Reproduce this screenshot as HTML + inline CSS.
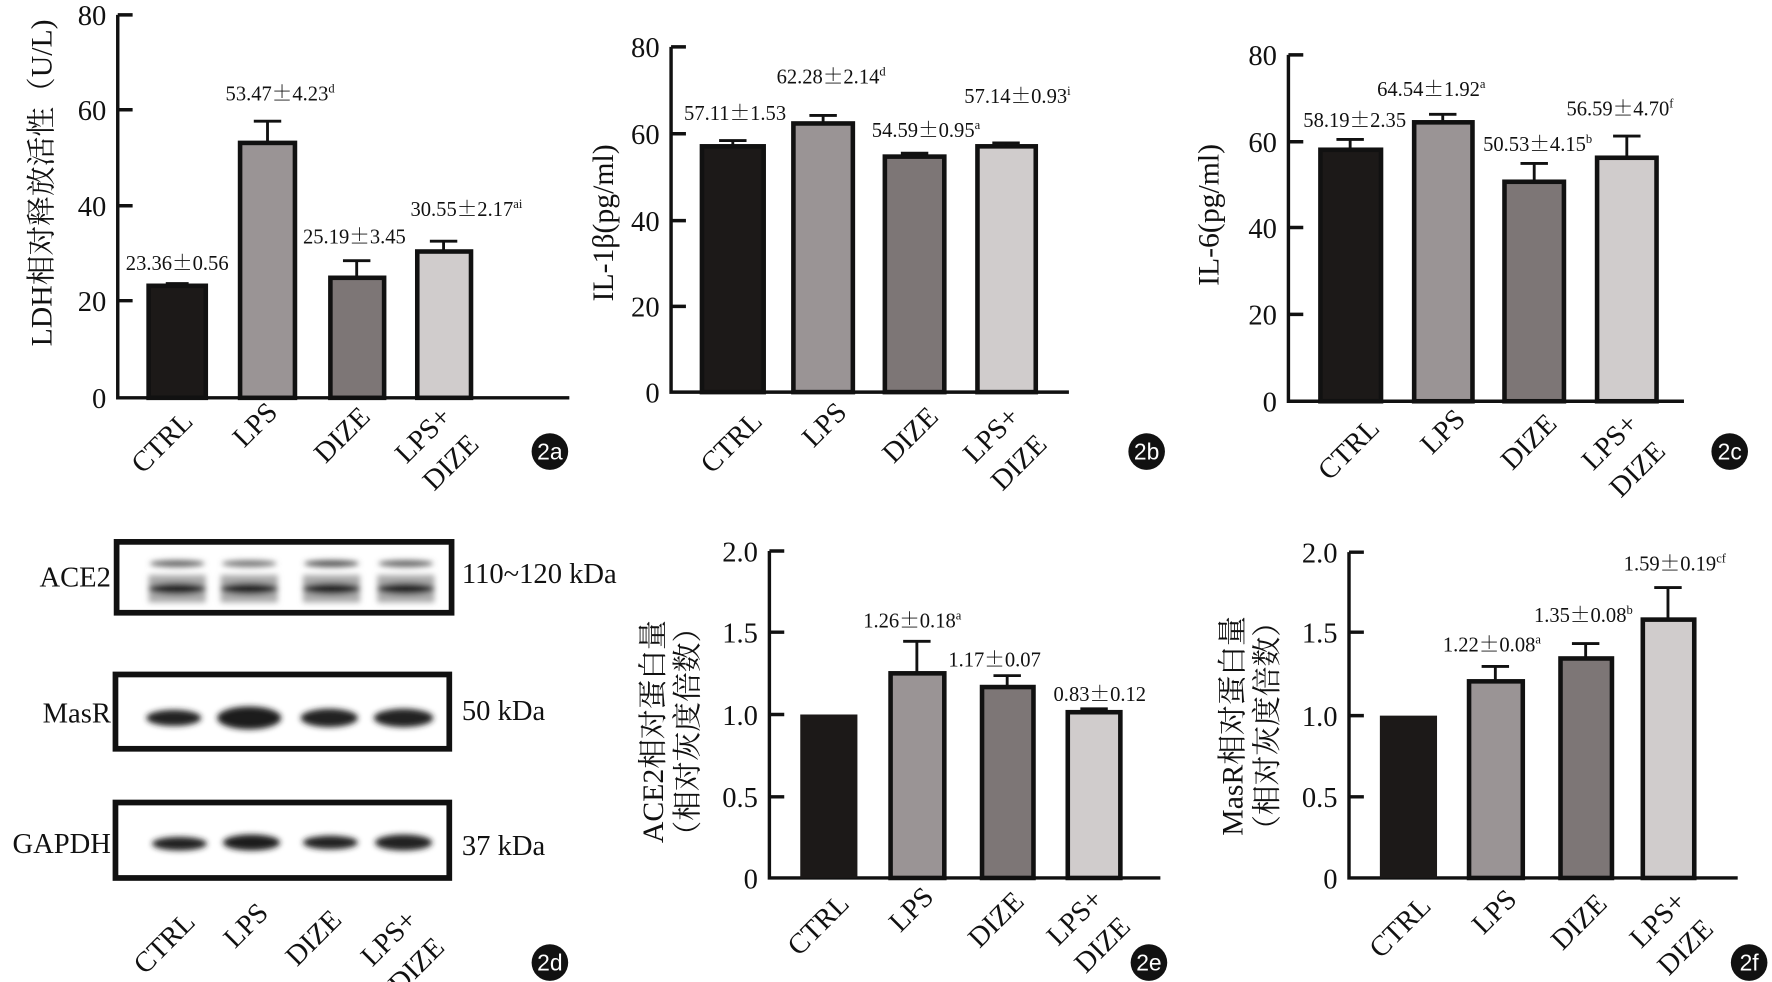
<!DOCTYPE html>
<html><head><meta charset="utf-8"><style>
html,body{margin:0;padding:0;background:#fff;}
svg{display:block;}
text{font-family:"Liberation Serif","Noto Serif CJK SC","Noto Sans CJK SC",serif;fill:#111;}
.tk{font-size:25px;text-anchor:end;}
.an{font-size:18px;text-anchor:middle;}
.pm{font-family:"Noto Serif CJK SC","Noto Sans CJK SC",serif;}
.sp{font-size:11px;}
.cat{font-size:25px;text-anchor:end;}
.yl{font-size:26px;text-anchor:middle;}
.ax{stroke:#111;stroke-width:3;fill:none;}
.bar{stroke:#111;stroke-width:4;}
.eb{stroke:#111;stroke-width:2.5;fill:none;}
.badge{fill:#111;}
.bt{font-family:"Liberation Sans",sans-serif;font-size:20px;fill:#fff;text-anchor:middle;}
</style></head><body>
<svg width="1772" height="982" viewBox="0 0 1550 859" preserveAspectRatio="none" xmlns="http://www.w3.org/2000/svg">
<defs>
<filter id="bl" x="-20%" y="-50%" width="140%" height="200%"><feGaussianBlur stdDeviation="2.5"/></filter>
</defs>

<!-- ===== 2a ===== -->
<g>
<path class="ax" d="M103 13 V348 H498"/>
<path class="ax" d="M103 13 H116 M103 96 H116 M103 180 H116 M103 263 H116"/>
<text class="tk" x="93" y="22">80</text><text class="tk" x="93" y="105">60</text>
<text class="tk" x="93" y="189">40</text><text class="tk" x="93" y="272">20</text>
<text class="tk" x="93" y="357">0</text>
<text class="yl" transform="translate(45,160) rotate(-90)">LDH相对释放活性（U/L)</text>
<path class="eb" d="M155 250 V248 M145 248 H165 M234 125 V106 M222 106 H246 M312 243 V228 M300 228 H324 M388 220 V211 M376 211 H400"/>
<rect class="bar" x="130" y="250" width="50" height="98" fill="#1c1918"/>
<rect class="bar" x="210" y="125" width="48" height="223" fill="#9a9495"/>
<rect class="bar" x="289" y="243" width="47" height="105" fill="#7d7676"/>
<rect class="bar" x="365" y="220" width="47" height="128" fill="#d0cccc"/>
<text class="an" x="155" y="236">23.36<tspan class="pm">±</tspan>0.56</text>
<text class="an" x="245" y="88">53.47<tspan class="pm">±</tspan>4.23<tspan class="sp" dy="-7">d</tspan></text>
<text class="an" x="310" y="213">25.19<tspan class="pm">±</tspan>3.45</text>
<text class="an" x="408" y="189">30.55<tspan class="pm">±</tspan>2.17<tspan class="sp" dy="-7">ai</tspan></text>
<text class="cat" transform="translate(170,370) rotate(-45)">CTRL</text>
<text class="cat" transform="translate(244,362) rotate(-45)">LPS</text>
<text class="cat" transform="translate(325,366) rotate(-45)">DIZE</text>
<text class="cat" transform="translate(396,366) rotate(-45)">LPS+<tspan x="0" dy="34">DIZE</tspan></text>
<circle class="badge" cx="481" cy="395" r="16"/><text class="bt" x="481" y="402">2a</text>
</g>

<!-- ===== 2b ===== -->
<g>
<path class="ax" d="M587 41 V343 H935"/>
<path class="ax" d="M587 41 H600 M587 117 H600 M587 193 H600 M587 268 H600"/>
<text class="tk" x="577" y="50">80</text><text class="tk" x="577" y="126">60</text>
<text class="tk" x="577" y="202">40</text><text class="tk" x="577" y="277">20</text>
<text class="tk" x="577" y="352">0</text>
<text class="yl" transform="translate(536,195) rotate(-90)">IL-1β(pg/ml)</text>
<path class="eb" d="M641 128 V123 M629 123 H653 M720 108 V101 M708 101 H732 M800 137 V134 M788 134 H812 M880 128 V125 M868 125 H892"/>
<rect class="bar" x="614" y="128" width="54" height="215" fill="#1c1918"/>
<rect class="bar" x="694" y="108" width="52" height="235" fill="#9a9495"/>
<rect class="bar" x="774" y="137" width="52" height="206" fill="#7d7676"/>
<rect class="bar" x="855" y="128" width="51" height="215" fill="#d0cccc"/>
<text class="an" x="643" y="105">57.11<tspan class="pm">±</tspan>1.53</text>
<text class="an" x="727" y="73">62.28<tspan class="pm">±</tspan>2.14<tspan class="sp" dy="-7">d</tspan></text>
<text class="an" x="810" y="120">54.59<tspan class="pm">±</tspan>0.95<tspan class="sp" dy="-7">a</tspan></text>
<text class="an" x="890" y="90">57.14<tspan class="pm">±</tspan>0.93<tspan class="sp" dy="-7">i</tspan></text>
<text class="cat" transform="translate(668,370) rotate(-45)">CTRL</text>
<text class="cat" transform="translate(742,362) rotate(-45)">LPS</text>
<text class="cat" transform="translate(822,366) rotate(-45)">DIZE</text>
<text class="cat" transform="translate(893,366) rotate(-45)">LPS+<tspan x="0" dy="34">DIZE</tspan></text>
<circle class="badge" cx="1003" cy="395" r="16"/><text class="bt" x="1003" y="402">2b</text>
</g>

<!-- ===== 2c ===== -->
<g>
<path class="ax" d="M1127 48 V351 H1473"/>
<path class="ax" d="M1127 48 H1140 M1127 124 H1140 M1127 199 H1140 M1127 275 H1140"/>
<text class="tk" x="1117" y="57">80</text><text class="tk" x="1117" y="133">60</text>
<text class="tk" x="1117" y="208">40</text><text class="tk" x="1117" y="284">20</text>
<text class="tk" x="1117" y="360">0</text>
<text class="yl" transform="translate(1066,188) rotate(-90)">IL-6(pg/ml)</text>
<path class="eb" d="M1181 131 V122 M1169 122 H1193 M1262 107 V100 M1250 100 H1274 M1342 159 V143 M1330 143 H1354 M1423 138 V119 M1411 119 H1435"/>
<rect class="bar" x="1155" y="131" width="53" height="220" fill="#1c1918"/>
<rect class="bar" x="1237" y="107" width="51" height="244" fill="#9a9495"/>
<rect class="bar" x="1316" y="159" width="52" height="192" fill="#7d7676"/>
<rect class="bar" x="1397" y="138" width="52" height="213" fill="#d0cccc"/>
<text class="an" x="1185" y="111">58.19<tspan class="pm">±</tspan>2.35</text>
<text class="an" x="1252" y="84">64.54<tspan class="pm">±</tspan>1.92<tspan class="sp" dy="-7">a</tspan></text>
<text class="an" x="1345" y="132">50.53<tspan class="pm">±</tspan>4.15<tspan class="sp" dy="-7">b</tspan></text>
<text class="an" x="1417" y="101">56.59<tspan class="pm">±</tspan>4.70<tspan class="sp" dy="-7">f</tspan></text>
<text class="cat" transform="translate(1208,376) rotate(-45)">CTRL</text>
<text class="cat" transform="translate(1283,368) rotate(-45)">LPS</text>
<text class="cat" transform="translate(1363,372) rotate(-45)">DIZE</text>
<text class="cat" transform="translate(1434,372) rotate(-45)">LPS+<tspan x="0" dy="34">DIZE</tspan></text>
<circle class="badge" cx="1513" cy="395" r="16"/><text class="bt" x="1513" y="402">2c</text>
</g>

<!-- ===== 2d Western blot ===== -->
<g>
<rect x="102" y="474" width="293" height="62" fill="#fff" stroke="#111" stroke-width="5"/>
<g filter="url(#bl)">
<ellipse cx="155" cy="493" rx="24" ry="3" fill="#666"/><ellipse cx="218" cy="493" rx="24" ry="3" fill="#777"/>
<ellipse cx="290" cy="493" rx="24" ry="3" fill="#555"/><ellipse cx="355" cy="493" rx="24" ry="3" fill="#666"/>
<rect x="130" y="503" width="50" height="24" fill="#aaa"/><rect x="193" y="503" width="50" height="24" fill="#aaa"/>
<rect x="265" y="503" width="50" height="24" fill="#aaa"/><rect x="330" y="503" width="50" height="24" fill="#aaa"/>
<ellipse cx="155" cy="515" rx="25" ry="5" fill="#222"/><ellipse cx="218" cy="515" rx="25" ry="5" fill="#222"/>
<ellipse cx="290" cy="515" rx="25" ry="5" fill="#222"/><ellipse cx="355" cy="515" rx="25" ry="5" fill="#222"/>
</g>
<text style="font-size:25px;text-anchor:end" x="97" y="513">ACE2</text>
<text style="font-size:25px" x="404" y="510">110~120 kDa</text>

<rect x="101" y="590" width="292" height="65" fill="#fff" stroke="#111" stroke-width="5"/>
<g filter="url(#bl)">
<ellipse cx="152" cy="628" rx="24" ry="7" fill="#222"/><ellipse cx="218" cy="628" rx="28" ry="10" fill="#1a1a1a"/>
<ellipse cx="288" cy="628" rx="25" ry="8" fill="#222"/><ellipse cx="353" cy="628" rx="26" ry="8" fill="#222"/>
</g>
<text style="font-size:25px;text-anchor:end" x="97" y="632">MasR</text>
<text style="font-size:25px" x="404" y="630">50 kDa</text>

<rect x="101" y="702" width="292" height="66" fill="#fff" stroke="#111" stroke-width="5"/>
<g filter="url(#bl)">
<ellipse cx="157" cy="738" rx="24" ry="6" fill="#222"/><ellipse cx="220" cy="737" rx="25" ry="7" fill="#1a1a1a"/>
<ellipse cx="289" cy="737" rx="24" ry="6" fill="#222"/><ellipse cx="353" cy="737" rx="25" ry="7" fill="#222"/>
</g>
<text style="font-size:25px;text-anchor:end" x="97" y="746">GAPDH</text>
<text style="font-size:25px" x="404" y="748">37 kDa</text>

<text class="cat" transform="translate(172,808) rotate(-45)">CTRL</text>
<text class="cat" transform="translate(236,800) rotate(-45)">LPS</text>
<text class="cat" transform="translate(300,806) rotate(-45)">DIZE</text>
<text class="cat" transform="translate(366,806) rotate(-45)">LPS+<tspan x="0" dy="34">DIZE</tspan></text>
<circle class="badge" cx="481" cy="842" r="16"/><text class="bt" x="481" y="849">2d</text>
</g>

<!-- ===== 2e ===== -->
<g>
<path class="ax" d="M673 482 V768 H1015"/>
<path class="ax" d="M673 482 H686 M673 553 H686 M673 625 H686 M673 697 H686"/>
<text class="tk" x="663" y="491">2.0</text><text class="tk" x="663" y="562">1.5</text>
<text class="tk" x="663" y="634">1.0</text><text class="tk" x="663" y="706">0.5</text>
<text class="tk" x="663" y="777">0</text>
<text class="yl" transform="translate(580,640) rotate(-90)">ACE2相对蛋白量</text>
<text class="yl" transform="translate(610,640) rotate(-90)">（相对灰度倍数）</text>
<path class="eb" d="M802 589 V561 M790 561 H814 M881 601 V591 M869 591 H893 M957 623 V620 M945 620 H969"/>
<rect x="700" y="625" width="50" height="143" fill="#1c1918"/>
<rect class="bar" x="779" y="589" width="47" height="179" fill="#9a9495"/>
<rect class="bar" x="859" y="601" width="45" height="167" fill="#7d7676"/>
<rect class="bar" x="934" y="623" width="46" height="145" fill="#d0cccc"/>
<text class="an" x="798" y="549">1.26<tspan class="pm">±</tspan>0.18<tspan class="sp" dy="-7">a</tspan></text>
<text class="an" x="870" y="583">1.17<tspan class="pm">±</tspan>0.07</text>
<text class="an" x="962" y="613">0.83<tspan class="pm">±</tspan>0.12</text>
<text class="cat" transform="translate(744,792) rotate(-45)">CTRL</text>
<text class="cat" transform="translate(818,786) rotate(-45)">LPS</text>
<text class="cat" transform="translate(897,790) rotate(-45)">DIZE</text>
<text class="cat" transform="translate(966,788) rotate(-45)">LPS+<tspan x="0" dy="34">DIZE</tspan></text>
<circle class="badge" cx="1005" cy="842" r="16"/><text class="bt" x="1005" y="849">2e</text>
</g>

<!-- ===== 2f ===== -->
<g>
<path class="ax" d="M1180 483 V768 H1520"/>
<path class="ax" d="M1180 483 H1193 M1180 553 H1193 M1180 626 H1193 M1180 697 H1193"/>
<text class="tk" x="1170" y="492">2.0</text><text class="tk" x="1170" y="562">1.5</text>
<text class="tk" x="1170" y="635">1.0</text><text class="tk" x="1170" y="706">0.5</text>
<text class="tk" x="1170" y="777">0</text>
<text class="yl" transform="translate(1087,635) rotate(-90)">MasR相对蛋白量</text>
<text class="yl" transform="translate(1117,635) rotate(-90)">（相对灰度倍数）</text>
<path class="eb" d="M1308 596 V583 M1296 583 H1320 M1387 576 V563 M1375 563 H1399 M1459 542 V514 M1447 514 H1471"/>
<rect x="1207" y="626" width="50" height="142" fill="#1c1918"/>
<rect class="bar" x="1285" y="596" width="47" height="172" fill="#9a9495"/>
<rect class="bar" x="1365" y="576" width="45" height="192" fill="#7d7676"/>
<rect class="bar" x="1437" y="542" width="45" height="226" fill="#d0cccc"/>
<text class="an" x="1305" y="570">1.22<tspan class="pm">±</tspan>0.08<tspan class="sp" dy="-7">a</tspan></text>
<text class="an" x="1385" y="544">1.35<tspan class="pm">±</tspan>0.08<tspan class="sp" dy="-7">b</tspan></text>
<text class="an" x="1465" y="499">1.59<tspan class="pm">±</tspan>0.19<tspan class="sp" dy="-7">cf</tspan></text>
<text class="cat" transform="translate(1253,794) rotate(-45)">CTRL</text>
<text class="cat" transform="translate(1328,788) rotate(-45)">LPS</text>
<text class="cat" transform="translate(1407,792) rotate(-45)">DIZE</text>
<text class="cat" transform="translate(1476,790) rotate(-45)">LPS+<tspan x="0" dy="34">DIZE</tspan></text>
<circle class="badge" cx="1530" cy="842" r="16"/><text class="bt" x="1530" y="849">2f</text>
</g>
</svg>
</body></html>
